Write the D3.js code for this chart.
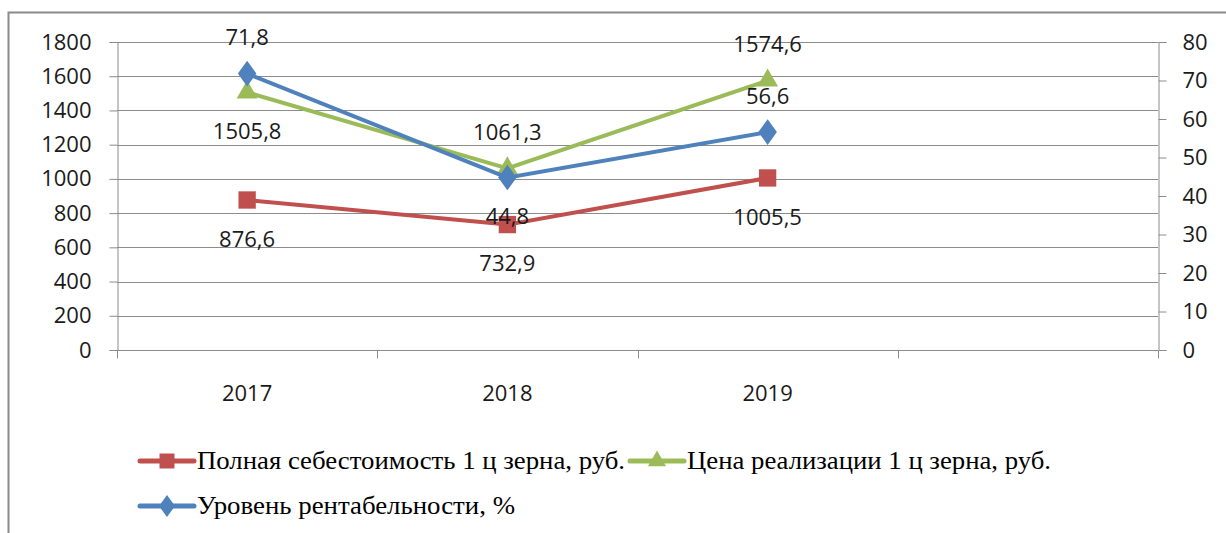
<!DOCTYPE html>
<html>
<head>
<meta charset="utf-8">
<script src="https://cdn.jsdelivr.net/npm/d3@7"></script>
<style>
  body { margin: 0; background: #fff; }
  svg { display: block; }
</style>
</head>
<body>
<div id="chart"></div>
<script>
// data
const years = ["2017", "2018", "2019", ""];
const cost = [876.6, 732.9, 1005.5];      // полная себестоимость, руб.
const price = [1505.8, 1061.3, 1574.6];   // цена реализации, руб.
const profit = [71.8, 44.8, 56.6];        // уровень рентабельности, %
const leftTicks = [0, 200, 400, 600, 800, 1000, 1200, 1400, 1600, 1800];
const rightTicks = [0, 10, 20, 30, 40, 50, 60, 70, 80];

const W = 1226, H = 533;
const plot = { left: 117, right: 1158, top: 42, bottom: 350 };
const numFont = "'Open Sans', sans-serif";
const serif = "'Liberation Serif', 'Times New Roman', serif";
const gridColor = "#8c8c8c";

const svg = d3.select("#chart").append("svg")
    .attr("width", W)
    .attr("height", H);

// chart frame
svg.append("rect")
    .attr("x", 8.5).attr("y", 12.5)
    .attr("width", W + 20).attr("height", H + 20)
    .attr("fill", "none")
    .attr("stroke", "#8a8a8a")
    .attr("stroke-width", 2);

const x = d3.scaleBand().domain(years).range([plot.left, plot.right]).padding(0);
const yL = d3.scaleLinear().domain([0, 1800]).range([plot.bottom, plot.top]);
const yR = d3.scaleLinear().domain([0, 80]).range([plot.bottom, plot.top]);
const cx = (i) => x(years[i]) + x.bandwidth() / 2;

// gridlines
svg.append("g")
    .selectAll("line")
    .data(leftTicks)
    .enter()
    .append("line")
    .attr("x1", plot.left).attr("x2", plot.right)
    .attr("y1", d => Math.round(yL(d)) + 0.5)
    .attr("y2", d => Math.round(yL(d)) + 0.5)
    .attr("stroke", gridColor);

// left axis
const gL = svg.append("g")
    .attr("transform", "translate(" + (plot.left + 0.5) + ",0)")
    .call(d3.axisLeft(yL).tickValues(leftTicks).tickSize(8).tickPadding(18).tickFormat(d3.format("d")));
// right axis
const gR = svg.append("g")
    .attr("transform", "translate(" + (plot.right + 0.5) + ",0)")
    .call(d3.axisRight(yR).tickValues(rightTicks).tickSize(8).tickPadding(16).tickFormat(d3.format("d")));

[gL, gR].forEach(g => {
    g.select(".domain").attr("stroke", gridColor);
    g.selectAll(".tick line").attr("stroke", gridColor);
    g.selectAll(".tick text")
        .style("font-family", numFont)
        .style("font-size", "22px")
        .attr("fill", "#1a1a1a");
});

// category axis
const gX = svg.append("g")
    .attr("transform", "translate(0," + (plot.bottom + 0.5) + ")");
gX.append("line")
    .attr("x1", plot.left).attr("x2", plot.right)
    .attr("stroke", gridColor);
const bounds = years.map(d => x(d)).concat([plot.right]);
gX.selectAll("line.tk")
    .data(bounds)
    .enter()
    .append("line")
    .attr("class", "tk")
    .attr("x1", d => Math.round(d) + 0.5).attr("x2", d => Math.round(d) + 0.5)
    .attr("y1", 0).attr("y2", 8)
    .attr("stroke", gridColor);
gX.selectAll("text")
    .data(years)
    .enter()
    .append("text")
    .attr("x", d => x(d) + x.bandwidth() / 2)
    .attr("y", 43)
    .attr("dy", "0.35em")
    .attr("text-anchor", "middle")
    .style("font-family", numFont)
    .style("font-size", "22px")
    .attr("fill", "#1a1a1a")
    .text(d => d);

const series = [
    { name: "Полная себестоимость 1 ц зерна, руб.", values: cost, y: yL, color: "#C0504D", symbol: d3.symbolSquare, size: 300, place: [1, 1, 1] },
    { name: "Цена реализации 1 ц зерна, руб.", values: price, y: yL, color: "#9BBB59", symbol: d3.symbolTriangle, size: 190, place: [1, -1, -1] },
    { name: "Уровень рентабельности, %", values: profit, y: yR, color: "#4F81BD", symbol: d3.symbolDiamond, size: 190, place: [-1, 1, -1] }
];

const fmt = (v) => String(v).replace(".", ",");

series.forEach(s => {
    const line = d3.line()
        .x((d, i) => cx(i))
        .y(d => s.y(d));
    svg.append("path")
        .datum(s.values)
        .attr("d", line)
        .attr("fill", "none")
        .attr("stroke", s.color)
        .attr("stroke-width", 4)
        .attr("stroke-linejoin", "round");
    svg.append("g")
        .selectAll("path")
        .data(s.values)
        .enter()
        .append("path")
        .attr("d", d3.symbol().type(s.symbol).size(s.size))
        .attr("transform", (d, i) => {
            let r = s.symbol === d3.symbolDiamond ? " scale(1.25,1)" : "";
            return "translate(" + cx(i) + "," + s.y(d) + ")" + r;
        })
        .attr("fill", s.color);
});

// data labels drawn after all lines
series.forEach(s => {
    svg.append("g")
        .selectAll("text")
        .data(s.values)
        .enter()
        .append("text")
        .attr("x", (d, i) => cx(i))
        .attr("y", (d, i) => s.y(d) + (s.place[i] > 0 ? 39 : -36))
        .attr("dy", "0.35em")
        .attr("text-anchor", "middle")
        .style("font-family", numFont)
        .style("font-size", "22px")
        .attr("fill", "#1a1a1a")
        .text(d => fmt(d));
});

// legend
const legendPos = [
    { x: 140, y: 461, w: 428 },
    { x: 630, y: 461, w: 364 },
    { x: 140, y: 506, w: 318 }
];
const legendOrder = [0, 1, 2];
legendOrder.forEach((si, k) => {
    const s = series[si], p = legendPos[k];
    const g = svg.append("g").attr("transform", "translate(" + p.x + "," + p.y + ")");
    g.append("line")
        .attr("x1", 0).attr("x2", 54)
        .attr("stroke", s.color)
        .attr("stroke-width", 5)
        .attr("stroke-linecap", "round");
    g.append("path")
        .attr("d", d3.symbol().type(s.symbol).size(s.size * 0.75))
        .attr("transform", "translate(27,0)" + (s.symbol === d3.symbolDiamond ? " scale(1.25,1)" : ""))
        .attr("fill", s.color);
    g.append("text")
        .attr("x", 57)
        .attr("y", 0)
        .attr("dy", "0.33em")
        .attr("textLength", p.w)
        .attr("lengthAdjust", "spacingAndGlyphs")
        .style("font-family", serif)
        .style("font-size", "25px")
        .attr("fill", "#000")
        .text(s.name);
});
</script>
</body>
</html>
